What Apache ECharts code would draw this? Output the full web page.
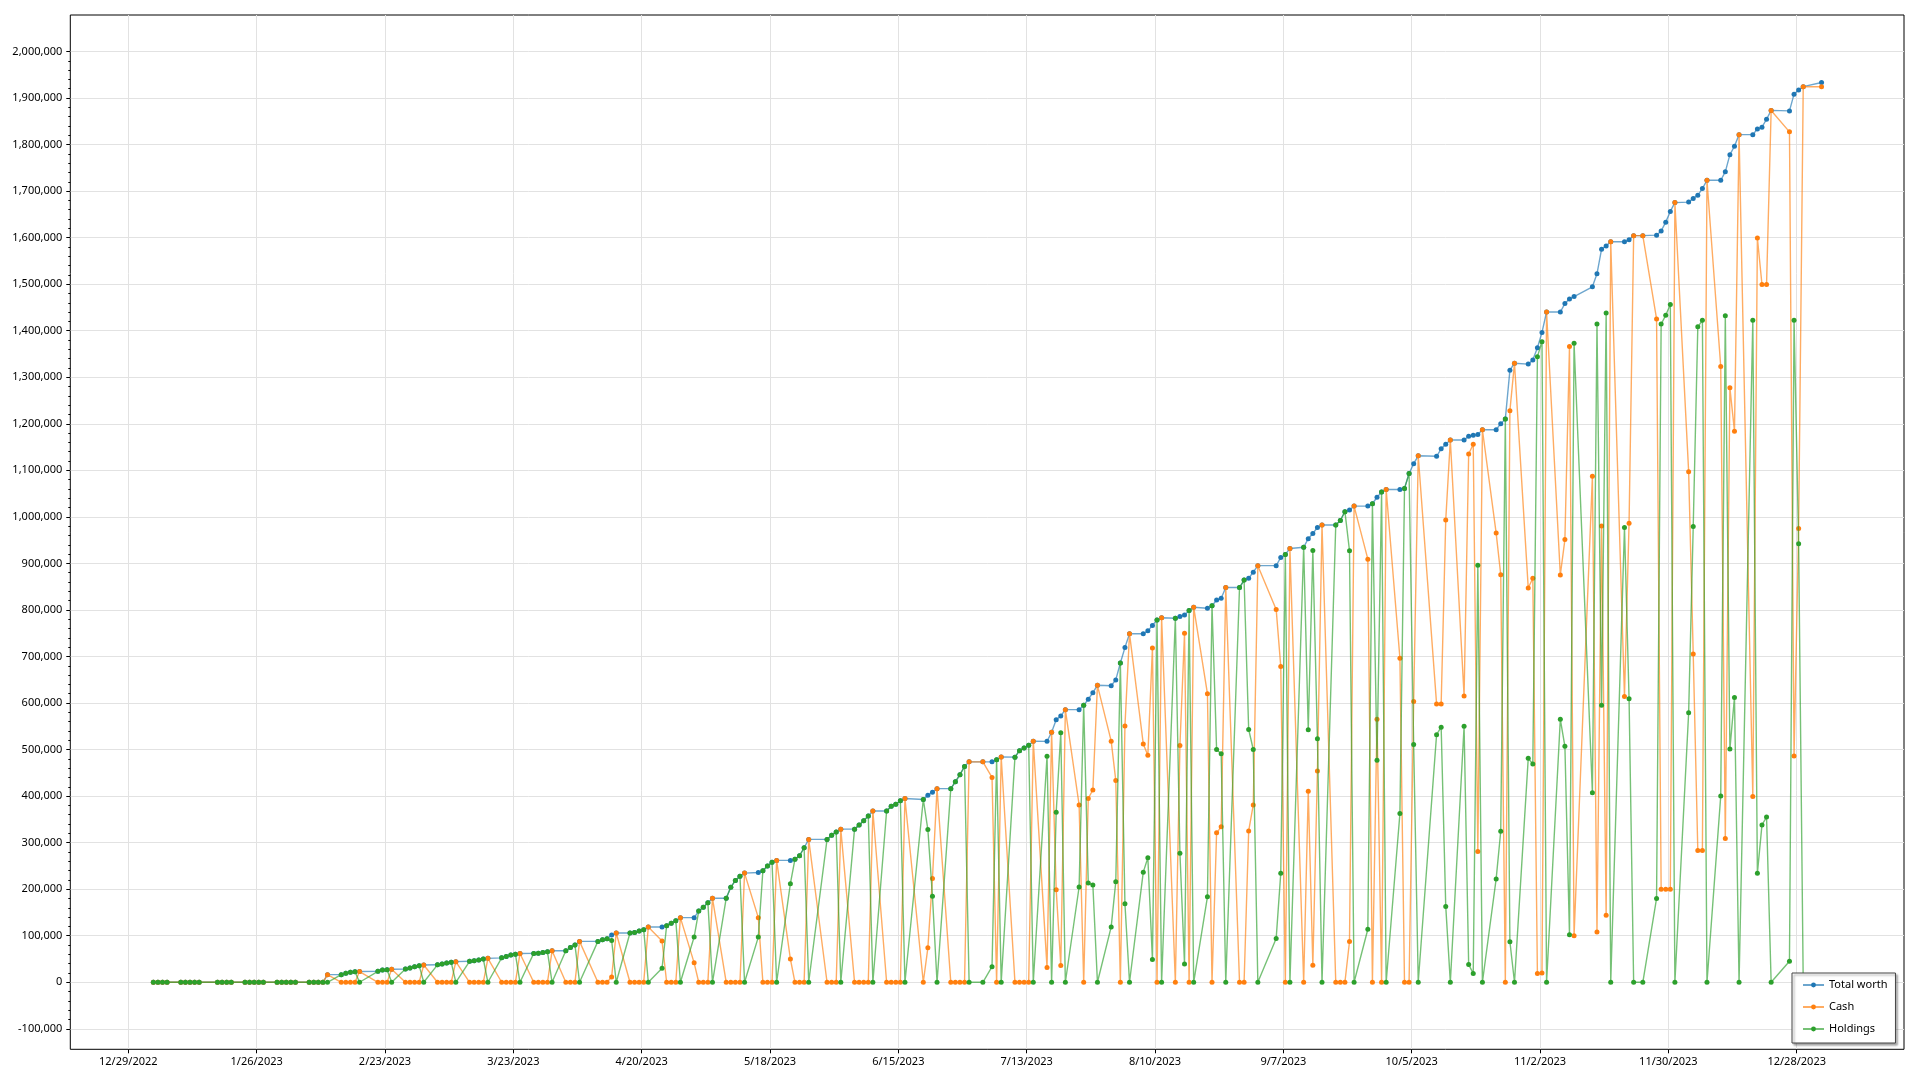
<!DOCTYPE html>
<html><head><meta charset="utf-8">
<script src="https://cdn.jsdelivr.net/npm/echarts@6/dist/echarts.min.js"></script>
<style>html,body{margin:0;padding:0;background:#fff}#c{width:1920px;height:1080px}</style>
</head><body><div id="c"></div>
<script>
// Trading days
const dates = [
'2023-01-03','2023-01-04','2023-01-05','2023-01-06','2023-01-09','2023-01-10','2023-01-11','2023-01-12','2023-01-13','2023-01-17','2023-01-18','2023-01-19','2023-01-20','2023-01-23','2023-01-24','2023-01-25','2023-01-26','2023-01-27','2023-01-30','2023-01-31',
'2023-02-01','2023-02-02','2023-02-03','2023-02-06','2023-02-07','2023-02-08','2023-02-09','2023-02-10','2023-02-13','2023-02-14','2023-02-15','2023-02-16','2023-02-17','2023-02-21','2023-02-22','2023-02-23','2023-02-24','2023-02-27','2023-02-28',
'2023-03-01','2023-03-02','2023-03-03','2023-03-06','2023-03-07','2023-03-08','2023-03-09','2023-03-10','2023-03-13','2023-03-14','2023-03-15','2023-03-16','2023-03-17','2023-03-20','2023-03-21','2023-03-22','2023-03-23','2023-03-24','2023-03-27','2023-03-28','2023-03-29','2023-03-30','2023-03-31',
'2023-04-03','2023-04-04','2023-04-05','2023-04-06','2023-04-10','2023-04-11','2023-04-12','2023-04-13','2023-04-14','2023-04-17','2023-04-18','2023-04-19','2023-04-20','2023-04-21','2023-04-24','2023-04-25','2023-04-26','2023-04-27','2023-04-28',
'2023-05-01','2023-05-02','2023-05-03','2023-05-04','2023-05-05','2023-05-08','2023-05-09','2023-05-10','2023-05-11','2023-05-12','2023-05-15','2023-05-16','2023-05-17','2023-05-18','2023-05-19','2023-05-22','2023-05-23','2023-05-24','2023-05-25','2023-05-26','2023-05-30','2023-05-31',
'2023-06-01','2023-06-02','2023-06-05','2023-06-06','2023-06-07','2023-06-08','2023-06-09','2023-06-12','2023-06-13','2023-06-14','2023-06-15','2023-06-16','2023-06-20','2023-06-21','2023-06-22','2023-06-23','2023-06-26','2023-06-27','2023-06-28','2023-06-29','2023-06-30',
'2023-07-03','2023-07-05','2023-07-06','2023-07-07','2023-07-10','2023-07-11','2023-07-12','2023-07-13','2023-07-14','2023-07-17','2023-07-18','2023-07-19','2023-07-20','2023-07-21','2023-07-24','2023-07-25','2023-07-26','2023-07-27','2023-07-28','2023-07-31',
'2023-08-01','2023-08-02','2023-08-03','2023-08-04','2023-08-07','2023-08-08','2023-08-09','2023-08-10','2023-08-11','2023-08-14','2023-08-15','2023-08-16','2023-08-17','2023-08-18','2023-08-21','2023-08-22','2023-08-23','2023-08-24','2023-08-25','2023-08-28','2023-08-29','2023-08-30','2023-08-31',
'2023-09-01','2023-09-05','2023-09-06','2023-09-07','2023-09-08','2023-09-11','2023-09-12','2023-09-13','2023-09-14','2023-09-15','2023-09-18','2023-09-19','2023-09-20','2023-09-21','2023-09-22','2023-09-25','2023-09-26','2023-09-27','2023-09-28','2023-09-29',
'2023-10-02','2023-10-03','2023-10-04','2023-10-05','2023-10-06','2023-10-10','2023-10-11','2023-10-12','2023-10-13','2023-10-16','2023-10-17','2023-10-18','2023-10-19','2023-10-20','2023-10-23','2023-10-24','2023-10-25','2023-10-26','2023-10-27','2023-10-30','2023-10-31',
'2023-11-01','2023-11-02','2023-11-03','2023-11-06','2023-11-07','2023-11-08','2023-11-09','2023-11-13','2023-11-14','2023-11-15','2023-11-16','2023-11-17','2023-11-20','2023-11-21','2023-11-22','2023-11-24','2023-11-27','2023-11-28','2023-11-29','2023-11-30',
'2023-12-01','2023-12-04','2023-12-05','2023-12-06','2023-12-07','2023-12-08','2023-12-11','2023-12-12','2023-12-13','2023-12-14','2023-12-15','2023-12-18','2023-12-19','2023-12-20','2023-12-21','2023-12-22','2023-12-26','2023-12-27','2023-12-28','2023-12-29',
'2024-01-02'
];

// Values in thousands
const totalWorth = [
0,0,0,0,0,0,0,0,0,0,0,0,0,0,0,0,0,0,0,0,
0,0,0,0,0,0,0,16.4,16.4,19.3,21.4,22.8,23.0,23.6,26.4,27.1,28.0,28.6,30.7,
33.6,35.7,37.1,37.5,39.3,41.4,42.8,44.3,45.0,46.4,47.8,50.0,51.4,52.5,55.5,58.5,60.4,61.9,62.0,62.6,64.0,65.5,67.6,
67.6,74.8,79.9,87.8,87.8,91.4,93.5,101.4,105.8,105.8,107.0,110.0,113.0,118.7,118.7,121.6,126.6,132.4,138.8,
138.8,153.0,161.0,171.0,180.6,180.6,204.0,218.7,228.0,234.5,235.8,239.6,250.0,258.0,261.8,261.8,264.5,271.8,289.0,306.9,306.9,316.0,
322.6,329.0,329.0,337.6,347.0,357.0,368.0,368.0,378.0,382.7,390.0,394.8,392.7,402.0,408.0,416.0,416.0,430.6,446.0,463.5,473.5,
473.5,473.5,478.0,484.0,483.6,497.5,503.5,509.0,518.0,517.6,537.0,564.0,572.0,585.7,585.7,595.0,608.0,622.0,638.0,637.0,
649.5,686.0,719.0,749.0,748.6,755.0,766.7,778.5,783.0,782.0,785.6,789.0,798.6,805.7,803.6,809.0,821.0,825.0,848.0,848.0,864.0,868.0,881.0,
895.0,895.0,912.6,919.0,932.0,934.6,953.0,964.0,977.0,982.5,982.5,992.0,1011.0,1014.5,1023.0,1023.0,1028.0,1042.0,1053.0,1058.6,
1058.6,1061.0,1093.0,1114.0,1131.0,1130.0,1146.0,1156.0,1165.0,1165.0,1173.0,1175.0,1177.0,1187.0,1187.0,1200.0,1210.0,1315.0,1330.0,1328.0,1337.0,
1363.0,1396.0,1440.0,1440.0,1458.0,1468.0,1473.0,1494.0,1522.0,1575.0,1582.0,1591.0,1591.0,1595.0,1604.0,1604.0,1605.0,1614.0,1633.0,1656.0,
1675.0,1676.0,1684.0,1691.0,1705.0,1723.0,1723.0,1741.0,1778.0,1796.0,1821.0,1821.0,1833.0,1837.0,1854.0,1873.0,1872.0,1908.0,1917.0,1924.0,
1933.0
];
const cash = [
0,0,0,0,0,0,0,0,0,0,0,0,0,0,0,0,0,0,0,0,
0,0,0,0,0,0,0,16.4,0,0,0,0,23.0,0,0,0,28.0,0,0,
0,0,37.1,0,0,0,0,44.3,0,0,0,0,51.4,0,0,0,0,61.9,0,0,0,0,67.6,
0,0,0,87.8,0,0,0,11.5,105.8,0,0,0,0,118.7,88.5,0,0,0,138.8,
41.7,0,0,0,180.6,0,0,0,0,234.5,138.8,0,0,0,261.8,50.0,0,0,0,306.9,0,0,
0,329.0,0,0,0,0,368.0,0,0,0,0,394.8,0,74.0,223.0,416.0,0,0,0,0,473.5,
473.5,440.0,0,484.0,0,0,0,0,518.0,32.0,537.0,199.0,36.0,585.7,381.0,0,395.0,413.0,638.0,518.0,
433.7,0,550.5,749.0,512.0,487.5,718.0,0,783.0,0,508.6,750.0,0,805.7,620.0,0,321.0,334.0,848.0,0,0,325.0,381.0,
895.0,801.0,678.6,0,932.0,0,410.6,36.5,454.0,982.5,0,0,0,87.5,1023.0,909.0,0,565.0,0,1058.6,
696.0,0,0,603.0,1131.0,598.0,598.0,993.0,1165.0,615.0,1135.0,1156.0,281.0,1187.0,965.0,875.5,0,1228.0,1330.0,847.0,868.0,
19.0,20.0,1440.0,875.0,951.0,1366.0,100.0,1087.0,108.0,980.0,144.0,1591.0,614.0,986.0,1604.0,1604.0,1425.0,200.0,200.0,200.0,
1675.0,1097.0,705.0,283.0,283.0,1723.0,1323.0,309.0,1277.0,1184.0,1821.0,399.0,1599.0,1499.0,1499.0,1873.0,1827.0,486.0,975.0,1924.0,
1924.0
];
const holdings = [
0,0,0,0,0,0,0,0,0,0,0,0,0,0,0,0,0,0,0,0,
0,0,0,0,0,0,0,0,16.4,19.3,21.4,22.8,0,23.6,26.4,27.1,0,28.6,30.7,
33.6,35.7,0,37.5,39.3,41.4,42.8,0,45.0,46.4,47.8,50.0,0,52.5,55.5,58.5,60.4,0,62.0,62.6,64.0,65.5,0,
67.6,74.8,79.9,0,87.8,91.4,93.5,89.9,0,105.8,107.0,110.0,113.0,0,30.2,121.6,126.6,132.4,0,
97.1,153.0,161.0,171.0,0,180.6,204.0,218.7,228.0,0,97.0,239.6,250.0,258.0,0,211.8,264.5,271.8,289.0,0,306.9,316.0,
322.6,0,329.0,337.6,347.0,357.0,0,368.0,378.0,382.7,390.0,0,392.7,328.0,185.0,0,416.0,430.6,446.0,463.5,0,
0,33.5,478.0,0,483.6,497.5,503.5,509.0,0,485.6,0,365.0,536.0,0,204.7,595.0,213.0,209.0,0,119.0,
215.8,686.0,168.5,0,236.6,267.5,48.7,778.5,0,782.0,277.0,39.0,798.6,0,183.6,809.0,500.0,491.0,0,848.0,864.0,543.0,500.0,
0,94.0,234.0,919.0,0,934.6,542.4,927.5,523.0,0,982.5,992.0,1011.0,927.0,0,114.0,1028.0,477.0,1053.0,0,
362.6,1061.0,1093.0,511.0,0,532.0,548.0,163.0,0,550.0,38.0,19.0,896.0,0,222.0,324.5,1210.0,87.0,0,481.0,469.0,
1344.0,1376.0,0,565.0,507.0,102.0,1373.0,407.0,1414.0,595.0,1438.0,0,977.0,609.0,0,0,180.0,1414.0,1433.0,1456.0,
0,579.0,979.0,1408.0,1422.0,0,400.0,1432.0,501.0,612.0,0,1422.0,234.0,338.0,355.0,0,45.0,1422.0,942.0,0,
9.0
];
const xTickLabels = ['12/29/2022','1/26/2023','2/23/2023','3/23/2023','4/20/2023','5/18/2023','6/15/2023','7/13/2023','8/10/2023','9/7/2023','10/5/2023','11/2/2023','11/30/2023','12/28/2023'];
const seriesNames = ['Total worth','Cash','Holdings'];
const seriesColors = ['#1f77b4','#ff7f0e','#2ca02c'];

const DAY = 86400000;
const t0 = +new Date('2022-12-29T00:00:00');
const FONT = 'Noto Sans';
function fmtK(v){ const n = Math.round(v*1000); return String(n).replace(/\B(?=(\d{3})+(?!\d))/g, ','); }

const valuesList = [totalWorth, cash, holdings];
const series = seriesNames.map((name, k) => ({
  name, type:'line', xAxisIndex:0, yAxisIndex:0,
  data: dates.map((d,i) => [d, valuesList[k][i]]),
  symbol:'circle', symbolSize:5, showAllSymbol:true,
  itemStyle:{color:seriesColors[k], borderWidth:0},
  lineStyle:{color:seriesColors[k], width:1.4, opacity:0.65},
  emphasis:{disabled:true}, animation:false, z:2+k
}));

const chart = echarts.init(document.getElementById('c'), null, {renderer:'canvas'});
chart.setOption({
  animation:false,
  backgroundColor:'#fff',
  textStyle:{fontFamily:FONT},
  grid:[
    {left:70.3, right:16, top:15, bottom:30.7, show:true, borderColor:'#000', borderWidth:1, backgroundColor:'transparent'},
    {left:128.3, right:123.3, top:15, bottom:30.7},
    {left:70.3, right:16, top:51.5, bottom:51.2}
  ],
  xAxis:[
    {gridIndex:0, type:'time', min:t0-13.12*DAY, max:t0+386.99*DAY, show:false},
    {gridIndex:1, type:'value', min:0, max:364, interval:28,
      axisLine:{show:false},
      axisTick:{show:true, length:4, lineStyle:{color:'#000'}},
      axisLabel:{margin:7, fontFamily:FONT, fontSize:11, color:'#000', formatter:v => xTickLabels[Math.round(v/28)]},
      splitLine:{show:true, lineStyle:{color:'#e2e2e2', width:1}}},
    {gridIndex:2, type:'value', min:0, max:1, show:false}
  ],
  yAxis:[
    {gridIndex:0, type:'value', min:-144, max:2078, show:false},
    {gridIndex:1, type:'value', min:0, max:1, show:false},
    {gridIndex:2, type:'value', min:-100, max:2000, interval:100,
      axisLine:{show:false},
      axisTick:{show:true, length:4, lineStyle:{color:'#000'}},
      minorTick:{show:true, splitNumber:5, length:2, lineStyle:{color:'#000'}},
      axisLabel:{margin:8, fontFamily:FONT, fontSize:11, color:'#000', formatter:fmtK},
      splitLine:{show:true, lineStyle:{color:'#e2e2e2', width:1}}}
  ],
  legend:{
    data:seriesNames, orient:'vertical', left:1792, top:973,
    padding:[5,8,7,10], itemGap:8, itemWidth:21, itemHeight:6,
    backgroundColor:'#fff', borderColor:'#444', borderWidth:1,
    shadowColor:'rgba(0,0,0,0.35)', shadowBlur:2, shadowOffsetX:2, shadowOffsetY:2,
    textStyle:{fontFamily:FONT, fontSize:11, lineHeight:14, height:14, color:'#000'},
    selectedMode:false, z:10
  },
  series
});
</script>
</body></html>
